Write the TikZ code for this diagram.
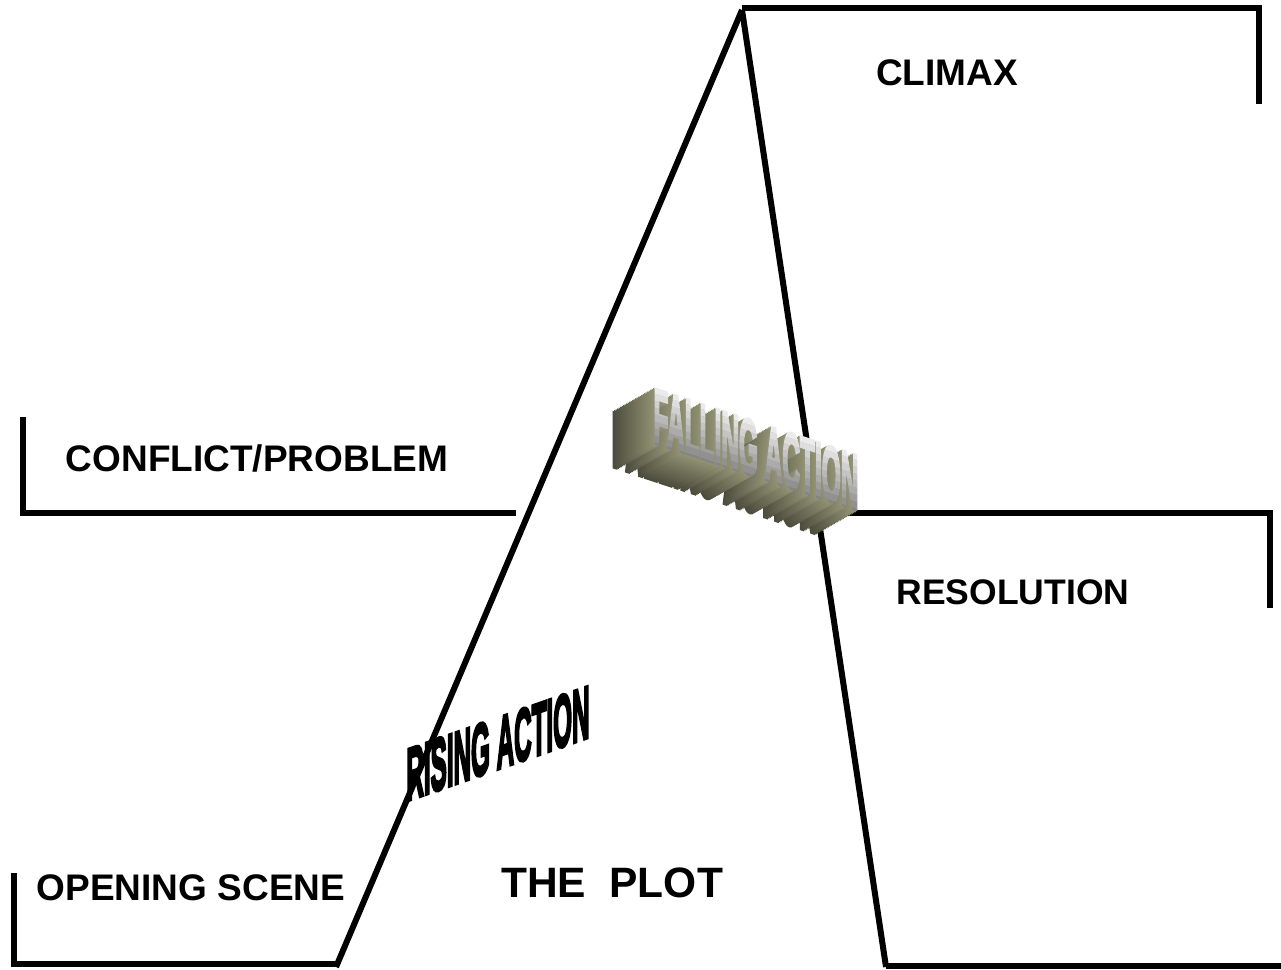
\documentclass[tikz,border=0pt]{standalone}
\usepackage{fontspec}
\setmainfont{Liberation Sans}
\newfontfamily\wafont{Liberation Sans}[BoldFeatures={FakeBold=5}]
\definecolor{oliveL}{HTML}{939375}
\definecolor{oliveD}{HTML}{3F3F33}
\tikzset{
  edge/.style={line width=6pt, line cap=butt, line join=miter},
  lbl/.style={font=\bfseries\fontsize{37}{40}\selectfont, inner sep=0pt},
  wa/.style={font=\wafont\bfseries\fontsize{37}{37}\selectfont, inner sep=0pt, anchor=base, transform shape}
}
\begin{document}
\begin{tikzpicture}[x=1pt,y=-1pt]
\useasboundingbox (0,0) rectangle (1281,969);
% key points
\coordinate (peak) at (742,10);
\coordinate (riseEnd) at (336,967);
\coordinate (fallEnd) at (886,967);
\coordinate (openTop) at (14,873);
\coordinate (openEnd) at (336,964);
\coordinate (confTop) at (23,417);
\coordinate (confEnd) at (516,513);
\coordinate (climStart) at (742,8);
\coordinate (climEnd) at (1259,104);
\coordinate (resStart) at (817,513);
\coordinate (resEnd) at (1270,608);
\coordinate (botEnd) at (1281,966);
% lines
\draw[edge] (openTop) |- (openEnd);
\draw[edge] (riseEnd) -- (peak);
\draw[edge] (confTop) |- (confEnd);
\draw[edge] (climStart) -| (climEnd);
\draw[edge] (peak) -- (fallEnd);
\draw[edge] (fallEnd |- botEnd) -- (botEnd);
\draw[edge] (resStart) -| (resEnd);
% labels
\node[lbl] (climax) at (947,73) {CLIMAX};
\node[lbl] (conflict) at (257,458) {CONFLICT/PROBLEM};
\node[lbl] (opening) at (191,888) {OPENING SCENE};
\node[lbl, font=\bfseries\fontsize{35.5}{40}\selectfont] (resolution) at (1013,592) {RESOLUTION};
\node[lbl, font=\bfseries\fontsize{42.5}{46}\selectfont] (plot) at (612,883) {THE\ \ PLOT};
% RISING ACTION word art
\begin{scope}[shift={(498,769)}, yslant=0.35, xscale=0.655, yscale=2.0]
  \node[wa, text=black] (rising) at (0,0) {RISING ACTION};
\end{scope}
% FALLING ACTION word art: extrusion
\foreach \t in {28,...,1}{
  \pgfmathtruncatemacro\p{100-3*\t}
  \begin{scope}[shift={({756-1.5*\t},{476+0.85*\t})}, yslant=-0.33, xscale=0.66, yscale=2.1]
    \node[wa, text=oliveL!\p!oliveD] (fx\t) at (0,0) {FALLING ACTION};
  \end{scope}
}
% front face with vertical gradient
\foreach \k in {0,...,9}{
  \pgfmathsetmacro\ya{-3+3.3*\k}
  \pgfmathsetmacro\yb{-3+3.3*(\k+1)}
  \pgfmathtruncatemacro\g{48-5*\k}
  \begin{scope}[shift={(756,476)}, yslant=-0.33, xscale=0.66, yscale=2.1]
    \clip (-250pt,\ya pt) rectangle (250pt,\yb pt);
    \node[wa, text=black!\g!white] (ff\k) at (0,0) {FALLING ACTION};
  \end{scope}
}
\end{tikzpicture}
\end{document}
